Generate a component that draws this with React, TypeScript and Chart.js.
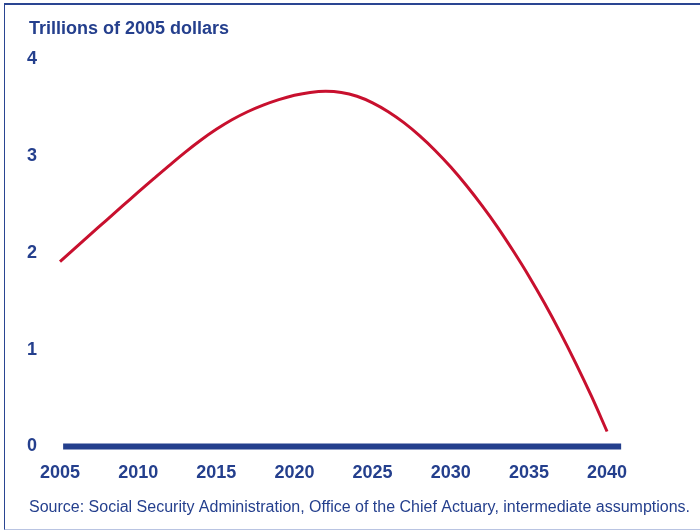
import React, { useEffect, useRef } from "react";
import { Chart, registerables } from "chart.js";

Chart.register(...registerables);

const years: number[] = [
  2005, 2006, 2007, 2008, 2009, 2010, 2011, 2012, 2013, 2014, 2015, 2016,
  2017, 2018, 2019, 2020, 2021, 2022, 2023, 2024, 2025, 2026, 2027, 2028,
  2029, 2030, 2031, 2032, 2033, 2034, 2035, 2036, 2037, 2038, 2039, 2040,
];
const trustFund: number[] = [
  1.91, 2.055, 2.2, 2.343, 2.486, 2.628, 2.768, 2.906, 3.04, 3.165, 3.278, 3.377,
  3.46, 3.528, 3.585, 3.63, 3.66, 3.672, 3.66, 3.62, 3.552, 3.46, 3.347, 3.213,
  3.06, 2.888, 2.697, 2.489, 2.265, 2.02, 1.76, 1.48, 1.18, 0.86, 0.52, 0.155,
];
const zeroLineX: number[] = [2005.2, 2040.9];
const zeroLineY: number[] = [0, 0];
const yTicks: number[] = [0, 1, 2, 3, 4];
const titleText = "Trillions of 2005 dollars";
const sourceText =
  "Source: Social Security Administration, Office of the Chief Actuary, intermediate assumptions.";

const BLUE = "#243f8d";
const RED = "#c8102e";
const FONT = "'Liberation Sans', Arial, Helvetica, sans-serif";

const textPlugin = {
  id: "headerFooter",
  afterDraw(chart: any) {
    const ctx = chart.ctx as CanvasRenderingContext2D;
    ctx.save();
    ctx.fillStyle = BLUE;
    ctx.textAlign = "left";
    ctx.textBaseline = "alphabetic";
    ctx.font = `bold 18px ${FONT}`;
    ctx.fillText(titleText, 29, 34);
    ctx.font = `normal 16px ${FONT}`;
    ctx.fillText(sourceText, 29, 511.5);
    ctx.restore();
  },
};

export default function App() {
  const ref = useRef<HTMLCanvasElement | null>(null);

  useEffect(() => {
    if (!ref.current) return;
    const chart = new Chart(ref.current, {
      type: "line",
      data: {
        datasets: [
          {
            data: years.map((x, i) => ({ x, y: trustFund[i] })),
            borderColor: RED,
            borderWidth: 3,
            pointRadius: 0,
            tension: 0.4,
            fill: false,
            clip: false as any,
            order: 0,
          },
          {
            data: zeroLineX.map((x, i) => ({ x, y: zeroLineY[i] })),
            borderColor: BLUE,
            borderWidth: 6,
            pointRadius: 0,
            fill: false,
            clip: false as any,
            order: 1,
          },
        ],
      },
      options: {
        responsive: true,
        maintainAspectRatio: false,
        animation: false,
        layout: { padding: { left: 0, right: 77.3, top: 59.5, bottom: 46.7 } },
        plugins: {
          legend: { display: false },
          tooltip: { enabled: false },
          title: { display: false },
        },
        scales: {
          x: {
            type: "linear",
            min: 2005,
            max: 2041,
            grid: { display: false, drawTicks: false },
            border: { display: false },
            ticks: {
              stepSize: 5,
              includeBounds: false,
              padding: 16.2,
              color: BLUE,
              font: { family: FONT, size: 18, weight: "bold" },
              maxRotation: 0,
              autoSkip: false,
              callback: (v: any) => String(v),
            },
            afterFit: (s: any) => {
              s.height = 37.8;
            },
          },
          y: {
            type: "linear",
            min: 0,
            max: 4,
            grid: { display: false, drawTicks: false },
            border: { display: false },
            afterBuildTicks: (s: any) => {
              s.ticks = yTicks.map((v) => ({ value: v }));
            },
            ticks: {
              padding: 23,
              color: BLUE,
              font: { family: FONT, size: 18, weight: "bold" },
              callback: (v: any) => String(v),
            },
            afterFit: (s: any) => {
              s.width = 60;
            },
          },
        },
      },
      plugins: [textPlugin],
    });
    return () => chart.destroy();
  }, []);

  return (
    <div
      style={{
        position: "absolute",
        left: 0,
        top: 0,
        width: 700,
        height: 531,
        background: "#ffffff",
        overflow: "hidden",
      }}
    >
      <canvas ref={ref} />
      <div
        style={{
          position: "absolute",
          left: 4,
          top: 3,
          width: 720,
          height: 524,
          borderTop: "2px solid #2a4592",
          borderLeft: "1.5px solid #2a4592",
          borderBottom: "1.5px solid #b9c4e2",
          pointerEvents: "none",
        }}
      />
    </div>
  );
}
